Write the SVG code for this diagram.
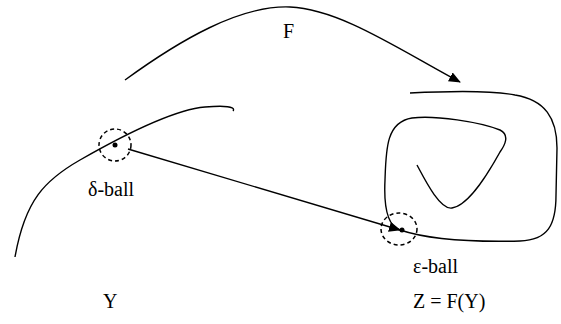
<svg xmlns="http://www.w3.org/2000/svg" width="561" height="324" viewBox="0 0 561 324">
<defs>
<style>
.c{fill:none;stroke:#000;stroke-width:1.4}
.d{fill:none;stroke:#000;stroke-width:1.5;stroke-dasharray:4,3}
</style>
<marker id="ah" markerWidth="12" markerHeight="10" refX="11" refY="5" orient="auto" markerUnits="userSpaceOnUse">
<path d="M0,0 L12,5 L0,10 z" fill="#000"/>
</marker>
</defs>
<rect width="561" height="324" fill="#fff"/>
<g font-family="Liberation Serif, Times New Roman, DejaVu Serif, serif" font-size="20" fill="#000">
<g id="spaceY">
<path class="c" d="M15,257 C25,200 45,180 80,160 S170,110 205,107 S233,111 233,111"/>
<text x="103" y="308">Y</text>
</g>
<g id="spaceZ">
<path class="c" d="M410,93 C450,91 490,90 515,95 C545,100 557,118 557,148 L556,195 C556,225 548,240 520,241 C480,242 430,240 400,230 C385,225 384,200 385,180 C386,150 386,122 412,118 C435,115 480,122 500,130 C510,135 505,145 500,152 C490,170 470,205 452,208 C440,210 425,180 417,165"/>
<text x="413" y="308">Z = F(Y)</text>
</g>
<g id="deltaBall">
<circle class="d" cx="115" cy="145" r="16"/>
<circle cx="115" cy="145" r="2.5" fill="#000"/>
<text x="88" y="196">δ-ball</text>
</g>
<g id="epsBall">
<ellipse class="d" cx="399" cy="229" rx="18" ry="16"/>
<circle cx="402" cy="230" r="2.5" fill="#000"/>
<text x="413" y="273">ε-ball</text>
</g>
<g id="connectors">
<path class="c" d="M125,80 C180,40 240,5 290,7 C340,9 400,50 460,82" marker-end="url(#ah)"/>
<text x="283" y="38">F</text>
<path class="c" d="M128,149 L400,230" marker-end="url(#ah)"/>
</g>
</g>
</svg>
